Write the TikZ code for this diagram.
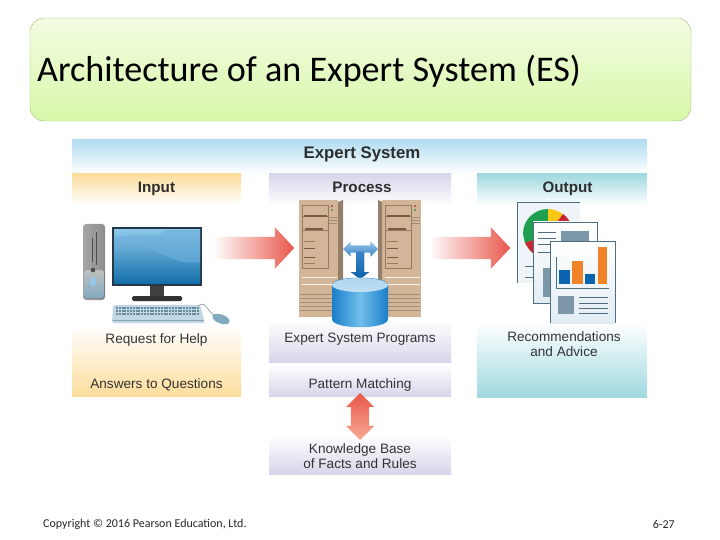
\documentclass[tikz,border=0pt]{standalone}
\usepackage{fontspec}
\setmainfont{Liberation Sans}
\newfontfamily\titlefont{Carlito}
\usetikzlibrary{shapes.arrows, shapes.geometric}
\definecolor{inorange}{HTML}{FCDD9C}
\definecolor{prolav}{HTML}{D6D6EA}
\definecolor{outteal}{HTML}{9FD9DF}
\definecolor{headblue}{HTML}{B2DDF1}
\definecolor{servertan}{HTML}{D3B598}
\definecolor{tandark}{HTML}{7A5A40}
\definecolor{docline}{HTML}{4F6F80}
\definecolor{docgray}{HTML}{7B97A8}
\definecolor{titleedge}{HTML}{A8B878}
\definecolor{titletop}{HTML}{F3FCE2}
\definecolor{titlelow}{HTML}{D8F7A8}
\definecolor{arrowred}{HTML}{E9574B}
\definecolor{arrowpale}{HTML}{F7AA94}
\definecolor{bluelight}{HTML}{96C8EB}
\definecolor{bluemid}{HTML}{3C82C3}
\definecolor{bluedark}{HTML}{1A7ECA}
\definecolor{bluesoft}{HTML}{70BEEC}
\definecolor{bluetop}{HTML}{C0E0F2}
\definecolor{screenlow}{HTML}{1470AA}
\definecolor{screentop}{HTML}{8CC6E8}
\definecolor{screenmid}{HTML}{6CB0DC}
\definecolor{bezel}{HTML}{24384A}
\definecolor{keyblue}{HTML}{C0D8E4}
\definecolor{keydark}{HTML}{6A8A9E}
\definecolor{mouseblue}{HTML}{82AABE}
\definecolor{piegreen}{HTML}{1EA050}
\definecolor{pieyellow}{HTML}{FAC814}
\definecolor{piered}{HTML}{C82832}
\definecolor{barblue}{HTML}{0A64AF}
\definecolor{barorange}{HTML}{F08228}
\definecolor{docpale}{HTML}{E2ECF3}
\tikzset{
	band/.style={anchor=north west, inner sep=0pt, outer sep=0pt},
	caption/.style={font=\fontsize{13.6}{15}\selectfont, text=black!80, align=center, inner sep=0pt},
	headtext/.style={font=\fontsize{15.2}{17}\selectfont\bfseries, text=black!82, inner sep=0pt, anchor=base},
	fatarrow/.style={single arrow, inner xsep=0pt, inner ysep=11pt, outer sep=0pt, minimum height=81pt,
		single arrow head extend=9.5pt, single arrow tip angle=94, left color=white, right color=arrowred},
	foot/.style={font=\titlefont\fontsize{12}{14}\selectfont, text=black!85, inner sep=0pt}
}
\begin{document}
\begin{tikzpicture}[x=1pt, y=-1pt]
	\useasboundingbox (0, 0) rectangle (720, 540);

	\node[band, draw=titleedge, rounded corners=14pt, minimum width=661pt, minimum height=103pt,
		top color=titletop, bottom color=titlelow] at (30, 18) (titlebox) {};
	\node[anchor=west, inner sep=0pt, font=\titlefont\fontsize{36.1}{40}\selectfont] at (37, 71.5) (title) {Architecture of an Expert System (ES)};

	\node[band, minimum width=575pt, minimum height=34pt, top color=headblue, bottom color=white] at (72, 140) (system) {};
	\node[headtext, font=\fontsize{16.8}{19}\selectfont\bfseries] at (362, 158.5) (systemtext) {Expert System};

	\node[band, minimum width=169pt, minimum height=31pt, top color=inorange, bottom color=white] at (72, 174) (input) {};
	\node[band, minimum width=169pt, minimum height=71pt, top color=white, bottom color=inorange] at (72, 325) (inputlow) {};
	\node[band, minimum width=182pt, minimum height=31pt, top color=prolav, bottom color=white] at (269, 174) (process) {};
	\node[band, minimum width=182pt, minimum height=42pt, top color=white, bottom color=prolav] at (269, 320) (processlow) {};
	\node[band, minimum width=182pt, minimum height=32pt, top color=white, bottom color=prolav] at (269, 364) (pattern) {};
	\node[band, minimum width=182pt, minimum height=39pt, top color=white, bottom color=prolav] at (269, 435) (knowledge) {};
	\node[band, minimum width=170pt, minimum height=31pt, top color=outteal, bottom color=white] at (477, 174) (output) {};
	\node[band, minimum width=170pt, minimum height=74pt, top color=white, bottom color=outteal] at (477, 323) (outputlow) {};

	\node[headtext] at (156.5, 193) (inputtext) {Input};
	\node[headtext] at (362, 193) (processtext) {Process};
	\node[headtext] at (567.5, 193) (outputtext) {Output};
	\node[caption, anchor=base] at (156.5, 343) (help) {Request for Help};
	\node[caption, anchor=base] at (156.5, 388) (answers) {Answers to Questions};
	\node[caption, anchor=base] at (360, 342) (programs) {Expert System Programs};
	\node[caption, anchor=base] at (360, 388) (matching) {Pattern Matching};
	\node[caption] at (360, 456) (facts) {Knowledge Base\\of Facts and Rules};
	\node[caption] at (564, 344.5) (advice) {Recommendations\\and Advice};

	\node[fatarrow] at (248.5, 248) (arrowin) {};
	\node[fatarrow] at (464.5, 248) (arrowout) {};

	\node[double arrow, inner sep=9pt, outer sep=0pt, minimum height=47pt, double arrow head extend=5pt,
		double arrow tip angle=90, shape border rotate=90, top color=arrowred, bottom color=arrowpale] at (360, 416.5) (exchange) {};

	\foreach \sx in {299, 382} {
		\fill[servertan] (\sx, 200) rectangle (\sx+39, 317);
		\draw[tandark!80, line width=0.5pt] (\sx+3, 205) rectangle (\sx+29, 268);
		\draw[tandark!80, line width=0.5pt] (\sx+3, 216) -- (\sx+29, 216) (\sx+3, 230) -- (\sx+29, 230);
		\draw[tandark, line width=1.3pt] (\sx+5, 216) -- (\sx+28, 216) (\sx+6, 229) -- (\sx+24, 229);
		\foreach \ly in {248, 257} \draw[tandark, line width=1pt] (\sx+5, \ly) -- (\sx+16, \ly);
		\foreach \ly in {241, 263} \draw[tandark!80, line width=0.4pt] (\sx+5, \ly) -- (\sx+16, \ly);
		\foreach \ly in {217, 220, 223} \draw[tandark!70, line width=0.7pt] (\sx+30, \ly) -- (\sx+38, \ly);
		\foreach \ly in {277, 284} \draw[white!85!servertan, line width=0.7pt] (\sx+3, \ly) -- (\sx+38, \ly);
		\foreach \ly in {294, 298, 302, 306, 310} \draw[tandark!70, line width=0.5pt] (\sx+1, \ly) -- (\sx+38, \ly);
		\fill[red!70!black] (\sx+33, 206) circle (0.8);
		\fill[green!50!black] (\sx+33, 210) circle (0.8);
	}
	\fill[servertan!70!black] (338, 202) -- (343, 200) -- (343, 317) -- (338, 317) -- cycle;
	\fill[servertan!70!black] (378, 200) -- (382, 202) -- (382, 317) -- (378, 317) -- cycle;

	\node[double arrow, inner xsep=0pt, inner ysep=3.5pt, outer sep=0pt, minimum height=35pt, double arrow head extend=4pt,
		double arrow tip angle=90, top color=bluelight, bottom color=bluemid] at (360.5, 249) (bluewide) {};
	\fill[top color=bluemid, bottom color=barblue]
		(356, 252) -- (364, 252) -- (364, 272) -- (369, 272) -- (360, 279) -- (351, 272) -- (356, 272) -- cycle;

	\shade[left color=bluedark, right color=bluedark, middle color=bluesoft]
		(332, 285) -- (332, 319) .. controls (332, 330) and (388, 330) .. (388, 319) -- (388, 285) .. controls (388, 275) and (332, 275) .. (332, 285);
	\node[ellipse, inner sep=0pt, minimum width=56pt, minimum height=14pt, top color=bluetop!90!bluedark, bottom color=bluetop] at (360, 285) (dbtop) {};

	\shade[left color=black!35, middle color=black!55, right color=black!45, rounded corners=3pt] (83, 224) rectangle (105, 300);
	\fill[top color=black!25, bottom color=mouseblue, rounded corners=2pt] (84, 270) rectangle (104, 298);
	\draw[black!70, line width=0.7pt] (92, 238) -- (92, 262) (96, 232) -- (96, 265);
	\fill[black!70] (93, 270) circle (2.3);
	\fill[bluelight] (93, 282) ellipse (3 and 5);

	\fill[bezel] (112, 227) rectangle (202, 286);
	\fill[top color=screentop, bottom color=screenlow] (114, 230) rectangle (200, 283);
	\fill[screenmid, opacity=0.6] (114, 245) .. controls (150, 238) and (170, 268) .. (200, 262) -- (200, 230) -- (165, 230) .. controls (160, 240) and (135, 232) .. (114, 238) -- cycle;
	\fill[black!75] (150, 286) rectangle (164, 297);
	\fill[black!80, rounded corners=1.5pt] (132, 296) rectangle (182, 301);
	\fill[keyblue, rounded corners=2pt] (113, 305) -- (200, 305) -- (205, 323) -- (112, 323) -- cycle;
	\foreach \ky in {308, 311, 314} \draw[keydark, line width=1.2pt, dash pattern=on 2pt off 0.8pt] (116, \ky) -- (199, \ky);
	\draw[keydark!80, line width=0.8pt] (113, 320) -- (204, 320);
	\draw[black!50, line width=0.5pt] (198, 306) .. controls (206, 300) and (206, 310) .. (214, 315);
	\node[ellipse, rotate=-20, inner sep=0pt, minimum width=18pt, minimum height=9pt, fill=mouseblue] at (221, 319) (mouse) {};

	\fill[docpale!60] (517, 202) rectangle (580, 283);
	\draw[docline, line width=0.7pt] (517, 283) -- (517, 202) -- (580, 202);
	\begin{scope}
		\clip (517, 202) rectangle (580, 283);
		\fill[piegreen] (548, 234) -- (548, 209) .. controls (534, 209) and (523, 220) .. (523, 234) -- (525, 243) -- cycle;
		\fill[pieyellow] (548, 234) -- (548, 209) .. controls (553, 209) and (558, 211) .. (563, 214) -- cycle;
		\fill[piered] (548, 234) -- (563, 214) .. controls (571, 220) and (573, 228) .. (573, 234) -- cycle;
		\fill[piered] (548, 234) -- (525, 243) .. controls (530, 252) and (535, 256) .. (542, 258) -- cycle;
	\end{scope}
	\draw[docline, line width=0.6pt] (525, 266) -- (533, 266) (525, 277) -- (533, 277);

	\fill[top color=white, bottom color=docpale] (533, 222) rectangle (597, 303);
	\draw[docline, line width=0.7pt] (533, 222) rectangle (597, 303);
	\foreach \ly in {232, 238, 244, 252} \draw[docline, line width=0.6pt] (538, \ly) -- (556, \ly);
	\fill[docgray] (561, 231) rectangle (589, 241);
	\fill[docgray] (543, 268) rectangle (550, 297);

	\fill[top color=white, bottom color=docpale] (550, 241) rectangle (615, 323);
	\draw[docline, line width=0.7pt] (550, 323) -- (550, 241) -- (615, 241) -- (615, 323);
	\draw[docline, line width=0.7pt] (556, 257) -- (556, 288) -- (609, 288);
	\fill[barblue] (559, 270) rectangle (570, 284);
	\fill[barorange] (572, 261) rectangle (583, 284);
	\fill[barblue] (585, 274) rectangle (595, 284);
	\fill[barorange] (598, 247) rectangle (607, 284);
	\fill[docgray] (558, 296) rectangle (574, 314);
	\foreach \ly in {297, 303, 308, 313} \draw[docline, line width=0.6pt] (579, \ly) -- (608, \ly);

	\node[foot, anchor=west] at (43, 524) (copyright) {Copyright © 2016 Pearson Education, Ltd.};
	\node[foot, anchor=east] at (675, 524) (pageno) {6-27};

\end{tikzpicture}
\end{document}
